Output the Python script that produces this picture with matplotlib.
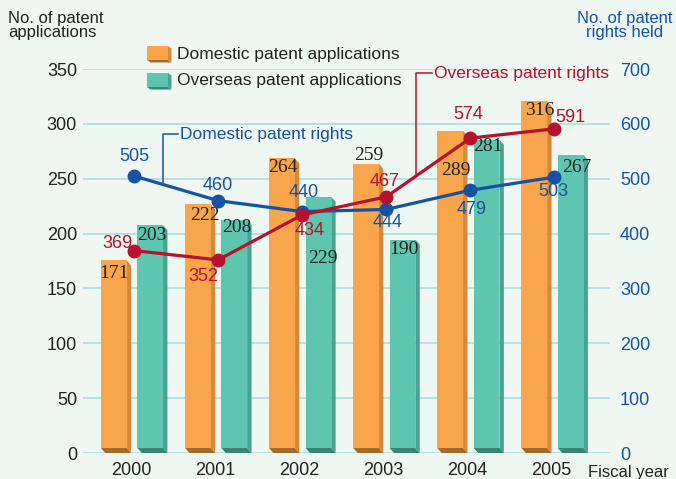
import matplotlib
matplotlib.use("Agg")
import matplotlib.pyplot as plt
from matplotlib.patches import Polygon, Rectangle
import numpy as np

plt.rcParams['font.family'] = ['Liberation Sans', 'DejaVu Sans']

# ---- data ----
years = ['2000', '2001', '2002', '2003', '2004', '2005']
domestic_apps = [171, 222, 264, 259, 289, 316]
overseas_apps = [203, 208, 229, 190, 281, 267]
domestic_rights = [505, 460, 440, 444, 479, 503]
overseas_rights = [369, 352, 434, 467, 574, 591]

# ---- styling ----
W, H = 676, 479
BG = '#eff7f3'
GRID = '#b9dfe0'
ORANGE = ('#f9a54b', '#d6893a', '#a46a2a')
TEAL = ('#5ec5ae', '#4aa290', '#3b8472')
RED = '#b8112e'
BLUE = '#1652a3'
TXT = '#222222'

PX_X = 84.1            # pixels per category step
PX_Y = 384 / 350.0     # pixels per left-axis unit
BAR_W = 25.7 / PX_X
DX = 4.4 / PX_X
DY = 5.0 / PX_Y
DOM_OFF = -20.2 / PX_X
OVS_OFF = 16.2 / PX_X

# label offsets in pixels (right, down) from the top centre of each bar face
dom_lbl_off = [(0, 13.6), (7, 11.5), (1.3, 9), (3, -8), (5.8, 39.8), (5.7, 9.2)]
ovs_lbl_off = [(1.3, 10.7), (2.4, 8.2), (4, 62), (1.5, 10.4), (1.7, 7), (6, 12.4)]
# line label offsets in pixels (right, down) from each marker
drl_off = [(0, -19), (0, -15), (1, -19), (1, 13), (1, 19), (-1, 14)]
orl_off = [(-17, -7), (-15, 17), (7, 16), (-2, -15), (-2, -24), (16, -11)]

fig = plt.figure(figsize=(W / 100, H / 100), dpi=100)
fig.patch.set_facecolor(BG)
ax = fig.add_axes([83 / W, 26 / H, 527 / W, 384 / H])
ax.set_facecolor(BG)
ax.set_xlim(-51 / PX_X, 476 / PX_X)
ax.set_ylim(0, 350)
for s in ax.spines.values():
    s.set_visible(False)

x = np.arange(len(years))
ax.set_yticks(np.arange(0, 351, 50))
ax.tick_params(axis='y', length=0, pad=4.3, labelsize=13, labelcolor=TXT)
ax.set_xticks(x - 3 / PX_X)
ax.set_xticklabels(years)
ax.tick_params(axis='x', length=0, pad=6.5, labelsize=13, labelcolor=TXT)
for v in np.arange(0, 351, 50):
    ax.axhline(v, color=GRID, lw=1.4, zorder=0.5)


def bar3d(xc, v, cols):
    face, side, bottom = cols
    x0, x1 = xc - BAR_W / 2, xc + BAR_W / 2
    ax.add_patch(Polygon([(x0, DY), (x1, DY), (x1 + DX, 0), (x0 + DX, 0)],
                         closed=True, fc=bottom, ec='none', zorder=2))
    ax.add_patch(Polygon([(x1, v + DY), (x1 + DX, v), (x1 + DX, 0), (x1, DY)],
                         closed=True, fc=side, ec='none', zorder=2))
    ax.add_patch(Rectangle((x0, DY), BAR_W, v, fc=face, ec='none', zorder=2.1))


for i in range(len(years)):
    bar3d(x[i] + DOM_OFF, domestic_apps[i], ORANGE)
    bar3d(x[i] + OVS_OFF, overseas_apps[i], TEAL)

bar_font = dict(family=['Liberation Serif', 'DejaVu Serif'], fontsize=14,
                color=TXT, ha='center', va='center', zorder=6)
for i in range(len(years)):
    for vals, off, offs in ((domestic_apps, DOM_OFF, dom_lbl_off),
                            (overseas_apps, OVS_OFF, ovs_lbl_off)):
        ox, oy = offs[i]
        ax.annotate(str(vals[i]), (x[i] + off, vals[i] + DY),
                    xytext=(ox * 0.72, -oy * 0.72), textcoords='offset points',
                    **bar_font)

# ---- right axis: patent rights held ----
ax2 = ax.twinx()
ax2.set_ylim(0, 700)
ax2.set_yticks(np.arange(0, 701, 100))
ax2.tick_params(axis='y', length=0, pad=7.2, labelsize=13, labelcolor=BLUE)
for t in ax2.get_yticklabels():
    t.set_ha('left')
for s in ax2.spines.values():
    s.set_visible(False)
ax2.patch.set_visible(False)

ax2.plot(x, domestic_rights, color=BLUE, lw=2.3, marker='o', ms=9,
         zorder=4, solid_capstyle='round')
ax2.plot(x, overseas_rights, color=RED, lw=2.3, marker='o', ms=9,
         zorder=4.5, solid_capstyle='round')

for vals, offs, col in ((domestic_rights, drl_off, BLUE),
                        (overseas_rights, orl_off, RED)):
    for i, v in enumerate(vals):
        ox, oy = offs[i]
        ax2.annotate(str(v), (x[i], v), xytext=(ox * 0.72, -oy * 0.72),
                     textcoords='offset points', ha='center', va='center',
                     fontsize=13, color=col, zorder=6)

# series call-outs with leader lines
def callout(text, vals, lead_x, text_x, text_y, col):
    i = int(np.floor(lead_x))
    y_on_line = vals[i] + (vals[i + 1] - vals[i]) * (lead_x - i)
    ax2.plot([lead_x, lead_x, text_x - 2 / PX_X], [y_on_line, text_y, text_y],
             color=col, lw=1.1, zorder=3.5, clip_on=False)
    ax2.text(text_x, text_y, text, color=col, fontsize=12.5, ha='left',
             va='center', zorder=6)


PX_R = 384 / 700.0
callout('Domestic patent rights', domestic_rights, 29 / PX_X, 46 / PX_X,
        (453 - 134) / PX_R, BLUE)
callout('Overseas patent rights', overseas_rights, 282 / PX_X, 300 / PX_X,
        (453 - 73) / PX_R, RED)

# ---- legend drawn as small 3-D boxes ----
def P(px, py):
    return (px / W, 1 - py / H)


def legend_box(top, cols, label):
    face, side, bottom = cols
    l, r, b = 147, 168, top + 14
    fig.add_artist(Polygon([P(l, b), P(r, b), P(r + 3.5, b + 2.5), P(l + 3.5, b + 2.5)],
                           closed=True, fc=bottom, ec='none',
                           transform=fig.transFigure))
    fig.add_artist(Polygon([P(r, top), P(r + 3.5, top + 2.5), P(r + 3.5, b + 2.5), P(r, b)],
                           closed=True, fc=side, ec='none',
                           transform=fig.transFigure))
    fig.add_artist(Polygon([P(l, top), P(r, top), P(r, b), P(l, b)],
                           closed=True, fc=face, ec='none',
                           transform=fig.transFigure))
    fig.text(*P(177, top + 8), label, fontsize=12.5, color=TXT,
             ha='left', va='center')


legend_box(46, ORANGE, 'Domestic patent applications')
legend_box(73, TEAL, 'Overseas patent applications')

# ---- axis titles ----
fig.text(*P(8, 11), 'No. of patent\napplications', fontsize=12, color=TXT,
         ha='left', va='top', linespacing=0.95)
fig.text(*P(625, 11), 'No. of patent\nrights held', fontsize=12, color=BLUE,
         ha='center', va='top', linespacing=0.95, multialignment='center')
fig.text(*P(588, 473), 'Fiscal year', fontsize=12, color=TXT,
         ha='left', va='center')

fig.savefig('out.png', dpi=100, facecolor=BG)
